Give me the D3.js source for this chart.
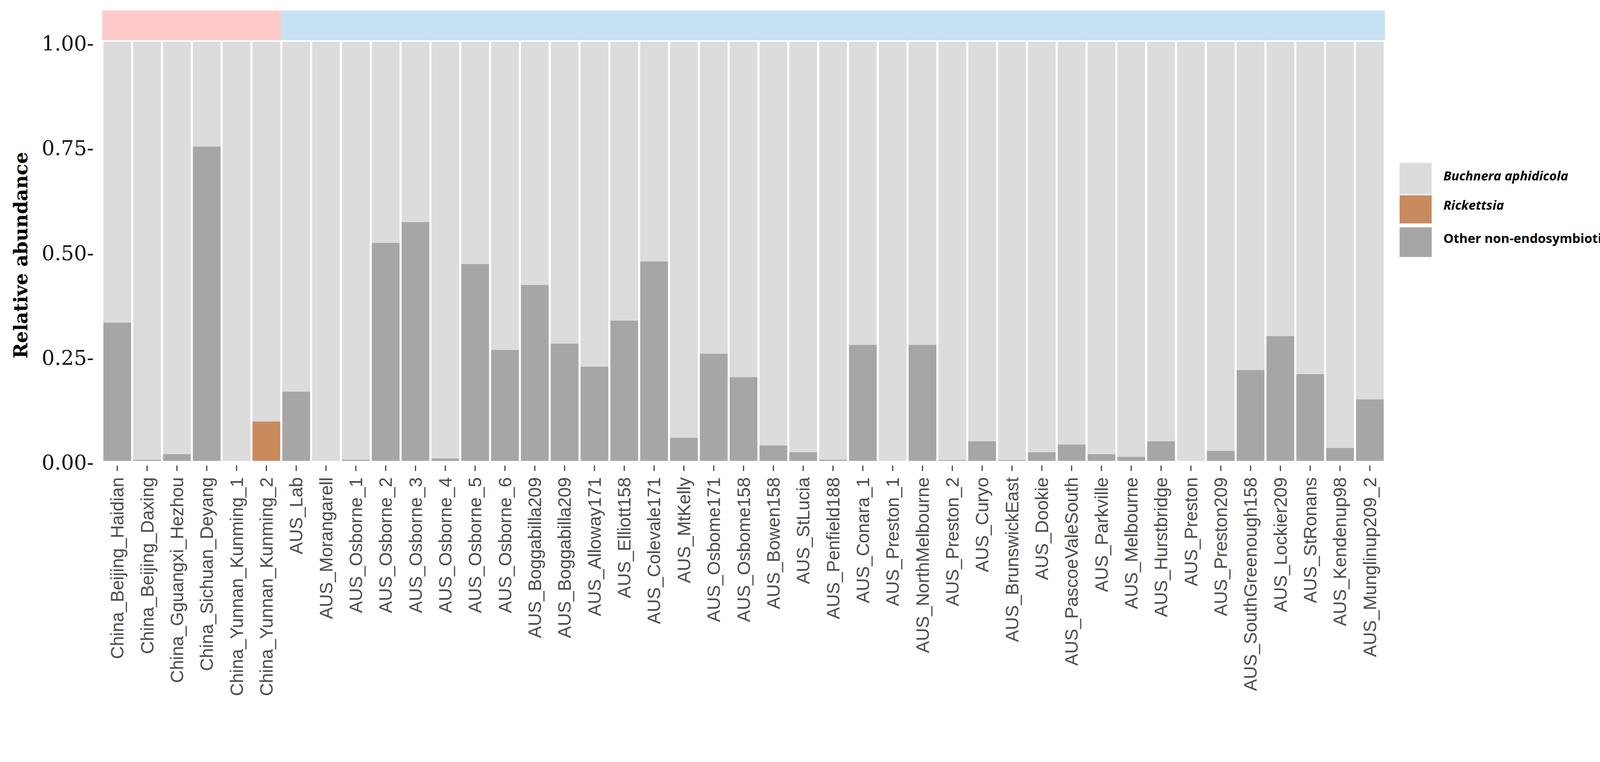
<!DOCTYPE html>
<html>
<head>
<meta charset="utf-8">
<script src="https://cdn.jsdelivr.net/npm/d3@7"></script>
<style>
  body { margin: 0; background: #fff; }
</style>
</head>
<body>
<div id="chart"></div>
<script>
const samples = ['China_Beijing_Haidian','China_Beijing_Daxing','China_Gguangxi_Hezhou','China_Sichuan_Deyang',
  'China_Yunnan_Kunming_1','China_Yunnan_Kunming_2','AUS_Lab','AUS_Morangarell','AUS_Osborne_1','AUS_Osborne_2',
  'AUS_Osborne_3','AUS_Osborne_4','AUS_Osborne_5','AUS_Osborne_6','AUS_Boggabilla209 ','AUS_Boggabilla209',
  'AUS_Alloway171','AUS_Elliott158','AUS_Colevale171','AUS_MtKelly','AUS_Osbome171','AUS_Osbome158',
  'AUS_Bowen158','AUS_StLucia','AUS_Penfield188','AUS_Conara_1','AUS_Preston_1','AUS_NorthMelbourne',
  'AUS_Preston_2','AUS_Curyo','AUS_BrunswickEast','AUS_Dookie','AUS_PascoeValeSouth','AUS_Parkville',
  'AUS_Melbourne','AUS_Hurstbridge','AUS_Preston','AUS_Preston209','AUS_SouthGreenough158','AUS_Lockier209',
  'AUS_StRonans','AUS_Kendenup98','AUS_Munglinup209_2'];
const regions = ['China','China','China','China','China','China'].concat(d3.range(37).map(() => 'AUS'));
const other = [0.33,0.003,0.016,0.75,0,0,0.165,0,0.003,0.52,0.57,0.006,0.47,0.265,0.42,0.28,0.225,0.335,0.476,
  0.055,0.256,0.2,0.037,0.021,0.003,0.277,0,0.277,0.002,0.047,0.002,0.021,0.039,0.016,0.01,0.047,0,0.024,
  0.217,0.298,0.207,0.031,0.147];
const rickettsia = [0,0,0,0,0,0.094].concat(d3.range(37).map(() => 0));
const yTicks = [0, 0.25, 0.5, 0.75, 1];

const keys = ['Other non-endosymbiotic bacteria', 'Rickettsia', 'Buchnera aphidicola'];
const colors = {'Buchnera aphidicola': '#dcdcdc', 'Rickettsia': '#c98a5e', 'Other non-endosymbiotic bacteria': '#a6a6a6'};

const W = 4390, H = 1951;
const m = {left: 262, right: 3545, top: 107, bottom: 1180};

const rows = samples.map((s, i) => ({
  sample: s,
  'Other non-endosymbiotic bacteria': other[i],
  'Rickettsia': rickettsia[i],
  'Buchnera aphidicola': 1 - other[i] - rickettsia[i]
}));

const svg = d3.select('#chart').append('svg').attr('width', W).attr('height', H);

const x = d3.scaleBand().domain(samples).range([m.left, m.right]).paddingInner(0.07).paddingOuter(0.035);
const y = d3.scaleLinear().domain([0, 1]).range([m.bottom, m.top]);

// region strip
svg.selectAll('.strip').data(samples).join('rect')
  .attr('x', d => x(d) - x.step() * x.paddingInner() / 2 - 0.5)
  .attr('width', x.step() + 1)
  .attr('y', 27).attr('height', 76)
  .attr('fill', (d, i) => regions[i] === 'China' ? '#ffcaca' : '#c6e2f3');

const stacked = d3.stack().keys(keys)(rows);
svg.append('g').selectAll('g').data(stacked).join('g')
  .attr('fill', d => colors[d.key])
  .selectAll('rect').data(d => d).join('rect')
  .attr('x', d => x(d.data.sample))
  .attr('width', x.bandwidth())
  .attr('y', d => y(d[1]))
  .attr('height', d => Math.max(0, y(d[0]) - y(d[1])));

// y axis labels (ggplot style with hyphen ticks)
svg.append('g').selectAll('text').data(yTicks).join('text')
  .attr('x', 240).attr('y', d => y(d) + 22)
  .attr('text-anchor', 'end')
  .style('font-family', '"DejaVu Serif", "Liberation Serif", serif')
  .style('font-size', '52px').attr('fill', '#111')
  .text(d => d3.format('.2f')(d) + '-');

svg.append('text')
  .attr('transform', `translate(70,${(m.top + m.bottom) / 2 + 10}) rotate(-90)`)
  .attr('text-anchor', 'middle')
  .style('font-family', '"DejaVu Serif", "Liberation Serif", serif')
  .style('font-size', '48px').style('font-weight', 'bold')
  .text('Relative abundance');

// x axis
const xa = svg.append('g');
xa.selectAll('line').data(samples).join('line')
  .attr('x1', d => x(d) + x.bandwidth() / 2).attr('x2', d => x(d) + x.bandwidth() / 2)
  .attr('y1', 1192).attr('y2', 1206)
  .attr('stroke', '#444').attr('stroke-width', 3);
xa.selectAll('text').data(samples).join('text')
  .attr('transform', d => `translate(${x(d) + x.bandwidth() / 2 + 16},1222) rotate(-90)`)
  .attr('text-anchor', 'end')
  .style('font-family', '"Liberation Sans", Arial, sans-serif')
  .style('font-size', '46px').attr('fill', '#4d4d4d')
  .text(d => d.trim());

// legend
const legendItems = ['Buchnera aphidicola', 'Rickettsia', 'Other non-endosymbiotic bacteria'];
const lg = svg.append('g').attr('transform', 'translate(3583,417)');
const keyH = [80, 72, 76], keyY = [0, 83, 165];
lg.selectAll('rect').data(legendItems).join('rect')
  .attr('x', 0).attr('y', (d, i) => keyY[i])
  .attr('width', 82).attr('height', (d, i) => keyH[i])
  .attr('fill', d => colors[d]);
lg.selectAll('text').data(legendItems).join('text')
  .attr('x', 112).attr('y', (d, i) => [45, 120, 205][i])
  .style('font-family', '"Open Sans", sans-serif')
  .style('font-size', '33px').style('font-weight', 'bold')
  .style('font-style', (d, i) => i < 2 ? 'italic' : 'normal')
  .text(d => d);
</script>
</body>
</html>
